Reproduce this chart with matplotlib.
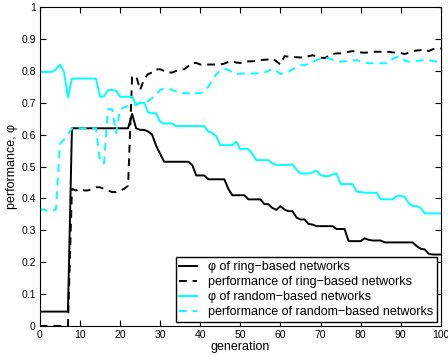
import numpy as np
import matplotlib
matplotlib.use('Agg')
import matplotlib.pyplot as plt

plt.rcParams['font.family'] = ['Liberation Sans', 'DejaVu Sans']

# generations 0..100
gen = np.arange(101)

# phi of ring-based networks
ring_phi = ([0.045] * 8 + [0.62] * 15 +
            [0.665, 0.62, 0.615, 0.615, 0.61, 0.60, 0.565, 0.54, 0.515] +
            [0.515] * 6 + [0.505, 0.472, 0.472, 0.472] + [0.46] * 5 +
            [0.43, 0.41, 0.41, 0.41, 0.41, 0.397, 0.397, 0.397, 0.397,
             0.382, 0.382, 0.37, 0.364, 0.376, 0.365, 0.36, 0.36, 0.34,
             0.334, 0.334, 0.32, 0.318, 0.313, 0.313, 0.313, 0.313, 0.313,
             0.304, 0.304, 0.304, 0.266, 0.266, 0.266, 0.266, 0.275, 0.27,
             0.268, 0.268, 0.268, 0.262] + [0.262] * 7 +
            [0.25, 0.242, 0.24, 0.226, 0.224, 0.224, 0.224])

# performance of ring-based networks
ring_perf = ([0.0] * 8 +
             [0.43, 0.425, 0.43, 0.425, 0.425, 0.43, 0.435, 0.435, 0.43,
              0.425, 0.42, 0.42, 0.425, 0.43, 0.44,
              0.78, 0.785, 0.74, 0.775, 0.79, 0.795, 0.805, 0.805, 0.80,
              0.795, 0.795, 0.80, 0.805, 0.805, 0.815, 0.825, 0.825, 0.82,
              0.82, 0.82, 0.82, 0.82, 0.82, 0.823, 0.828, 0.83, 0.826,
              0.825, 0.828, 0.83, 0.83, 0.832, 0.834, 0.835, 0.836, 0.839,
              0.83, 0.82, 0.846, 0.845, 0.843, 0.843, 0.842, 0.843, 0.846,
              0.849, 0.846, 0.842, 0.84, 0.847, 0.853, 0.855, 0.855, 0.856,
              0.86, 0.862, 0.86, 0.858, 0.857, 0.858, 0.86, 0.86, 0.86,
              0.86, 0.86, 0.858, 0.857, 0.856, 0.853, 0.857, 0.862, 0.864,
              0.865, 0.867, 0.862, 0.868, 0.87, 0.87])

# phi of random-based networks
rand_phi = ([0.797] * 4 + [0.805, 0.82, 0.797, 0.717] + [0.776] * 7 +
            [0.719, 0.72, 0.74, 0.74, 0.738, 0.719, 0.719, 0.719, 0.719,
             0.693, 0.70, 0.70, 0.67, 0.667, 0.667, 0.64, 0.635, 0.635,
             0.635] + [0.627] * 8 +
            [0.61, 0.605, 0.595, 0.567, 0.567, 0.567, 0.567, 0.578, 0.554,
             0.556, 0.555, 0.54, 0.52, 0.52, 0.52, 0.52, 0.51, 0.505, 0.505,
             0.505, 0.505, 0.507, 0.49, 0.478, 0.478, 0.478, 0.482, 0.487,
             0.473, 0.47, 0.47, 0.475, 0.478, 0.445, 0.445, 0.445, 0.445,
             0.421, 0.42, 0.418, 0.418, 0.418, 0.418, 0.397, 0.397, 0.397,
             0.397, 0.408, 0.408, 0.405, 0.385, 0.376, 0.376, 0.37, 0.353,
             0.353, 0.353, 0.353, 0.353])

# performance of random-based networks
rand_perf = ([0.365, 0.365, 0.36, 0.36, 0.365, 0.57, 0.585, 0.6] +
             [0.62] * 7 +
             [0.515, 0.51, 0.68, 0.68, 0.605, 0.68, 0.685, 0.69, 0.69,
              0.695, 0.70, 0.70, 0.705, 0.715, 0.726, 0.74, 0.745, 0.745,
              0.74, 0.735, 0.73, 0.73, 0.73, 0.725, 0.73, 0.73, 0.735, 0.75,
              0.77, 0.79, 0.80, 0.807, 0.803, 0.795, 0.79, 0.791, 0.792,
              0.792, 0.792, 0.792, 0.793, 0.795, 0.80, 0.807, 0.80, 0.79,
              0.795, 0.797, 0.805, 0.812, 0.818, 0.818, 0.822, 0.828, 0.834,
              0.838, 0.839, 0.84, 0.835, 0.829, 0.829, 0.83, 0.83, 0.832,
              0.834, 0.83, 0.826, 0.824, 0.824, 0.824, 0.824, 0.824, 0.824,
              0.839, 0.843, 0.845, 0.832, 0.829, 0.83, 0.832, 0.833, 0.834,
              0.834, 0.831, 0.829, 0.826])

labels = ['\u03c6 of ring\u2212based networks',
          'performance of ring\u2212based networks',
          '\u03c6 of random\u2212based networks',
          'performance of random\u2212based networks']

fig = plt.figure(figsize=(4.48, 3.57), dpi=100)
ax = fig.add_axes([0.089, 0.087, 0.895, 0.893])

dash = (0, (4, 3))
ax.plot(gen, ring_phi, color='black', lw=1.4, label=labels[0])
ax.plot(gen, ring_perf, color='black', lw=1.4, linestyle=dash, label=labels[1])
ax.plot(gen, rand_phi, color='cyan', lw=1.4, label=labels[2])
ax.plot(gen, rand_perf, color='cyan', lw=1.4, linestyle=dash, label=labels[3])

ax.set_xlim(0, 100)
ax.set_ylim(0, 1)
ax.set_xticks(np.arange(0, 101, 10))
ax.set_yticks(np.arange(0, 1.01, 0.1))
ax.set_yticklabels(['0', '0.1', '0.2', '0.3', '0.4', '0.5', '0.6', '0.7',
                    '0.8', '0.9', '1'])
ax.tick_params(direction='in', top=True, right=True, labelsize=7.5, length=4,
               pad=3)
ax.set_xlabel('generation', fontsize=9, labelpad=1)
ax.set_ylabel('performance, \u03c6', fontsize=9, labelpad=2)

leg = ax.legend(loc='lower right', fontsize=9, frameon=True, fancybox=False,
                edgecolor='black', framealpha=1, handlelength=1.4,
                labelspacing=0.25, borderpad=0.3, handletextpad=0.9,
                borderaxespad=0.3)
leg.get_frame().set_linewidth(1.0)

fig.savefig('out.png', dpi=100)
